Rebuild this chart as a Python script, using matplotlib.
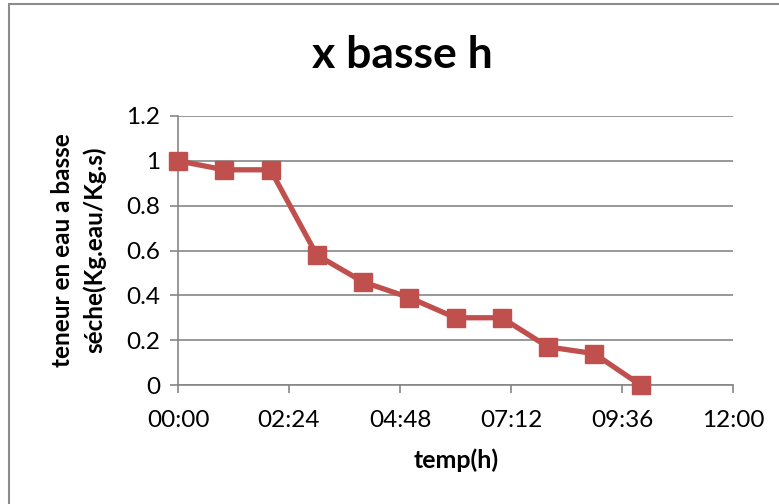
import matplotlib
matplotlib.use("Agg")
import matplotlib.pyplot as plt
from matplotlib.patches import Rectangle

# data
temps_h = [0, 1, 2, 3, 4, 5, 6, 7, 8, 9, 10]
teneur = [1.0, 0.96, 0.96, 0.58, 0.46, 0.39, 0.30, 0.30, 0.17, 0.14, 0.0]
x_ticks = [0, 2.4, 4.8, 7.2, 9.6, 12]
x_labels = ["00:00", "02:24", "04:48", "07:12", "09:36", "12:00"]
y_ticks = [0, 0.2, 0.4, 0.6, 0.8, 1, 1.2]
y_labels = ["0", "0.2", "0.4", "0.6", "0.8", "1", "1.2"]


def main():
    plt.rcParams['font.family'] = ['Lato', 'DejaVu Sans']
    grid_col = '#868686'

    fig = plt.figure(figsize=(7.79, 5.04), dpi=100)
    ax = fig.add_axes([178/779, 1 - 385/504, (733-178)/779, (385-116)/504])

    # outer chart frame
    fig.patches.append(Rectangle((9/779, -0.01), 1.0, 1 - 3.5/504 + 0.01,
                                 transform=fig.transFigure, fill=False,
                                 edgecolor='#8c8c8c', linewidth=1.5))

    ax.plot(temps_h, teneur, color='#C0504D', linewidth=3.8,
            marker='s', markersize=13.5, markerfacecolor='#C0504D',
            markeredgecolor='#C0504D', zorder=3, clip_on=False)

    ax.set_xlim(0, 12)
    ax.set_ylim(0, 1.2)
    ax.set_xticks(x_ticks)
    ax.set_xticklabels(x_labels)
    ax.set_yticks(y_ticks)
    ax.set_yticklabels(y_labels)
    ax.tick_params(axis='both', labelsize=17.5, colors=grid_col, labelcolor='black',
                   length=6, width=1.2, direction='out')
    ax.tick_params(axis='x', pad=12)
    ax.tick_params(axis='y', pad=7)

    ax.grid(axis='y', color=grid_col, linewidth=1.2)
    ax.set_axisbelow(True)

    # Frame
    ax.spines['top'].set_visible(False)
    ax.spines['right'].set_visible(False)
    ax.spines['left'].set_color(grid_col)
    ax.spines['bottom'].set_color(grid_col)
    ax.spines['left'].set_linewidth(1.2)
    ax.spines['bottom'].set_linewidth(1.2)

    fig.text(402/779, 1 - 55/504, "x basse h", fontsize=32, fontweight='bold',
             ha='center', va='center')
    fig.text(456/779, 1 - 460/504, "temp(h)", fontsize=18, fontweight='bold',
             ha='center', va='center')
    fig.text(79/779, 1 - 250/504, "teneur en eau a basse\nséche(Kg.eau/Kg.s)",
             fontsize=17.5, fontweight='bold', ha='center', va='center',
             rotation=90, linespacing=1.45)

    fig.savefig("out.png", dpi=100)


if __name__ == "__main__":
    main()
